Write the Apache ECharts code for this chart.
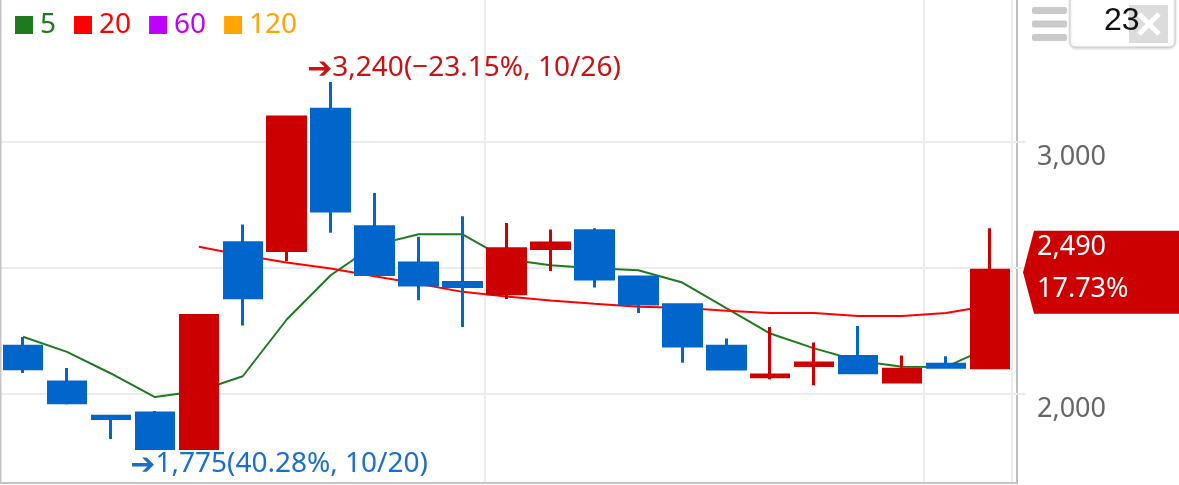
<!DOCTYPE html>
<html>
<head>
<meta charset="utf-8">
<script src="https://cdn.jsdelivr.net/npm/echarts@6.0.0/dist/echarts.min.js"></script>
<style>
html,body{margin:0;padding:0;background:#fff;}
#chart{width:1179px;height:485px;}
</style>
</head>
<body>
<div id="chart"></div>
<script>
// ---- data ----
const dates = ['10/15','10/16','10/19','10/20','10/21','10/22','10/23','10/26','10/27','10/28','10/29','10/30',
               '11/02','11/03','11/04','11/05','11/06','11/09','11/10','11/11','11/12','11/13','11/16'];
const openVals  = [2187,2045,1909,1922,1780,2600,2569,3131,2663,2519,2441,2396,2577,2647,2463,2353,2187,2066,2111,2147,2045,2116,2102];
const closeVals = [2098,1963,1900,1780,2310,2381,3100,2726,2473,2431,2425,2576,2599,2455,2356,2188,2097,2073,2121,2082,2096,2104,2490];
const lowVals   = [2081,1956,1818,1775,1780,2270,2526,2639,2470,2371,2264,2376,2487,2421,2320,2122,2092,2056,2032,2077,2045,2100,2098];
const highVals  = [2224,2101,1912,1930,2310,2672,3100,3240,2798,2623,2705,2678,2652,2657,2463,2353,2218,2264,2202,2268,2151,2148,2657];
const ma5  = [2225,2165,2079,1985,2009,2068,2294,2470,2590,2633,2633,2534,2510,2498,2490,2441,2339,2238,2179,2130,2106,2105,2185];
const ma20 = [null,null,null,null,2584,2550,2521,2497,2466,2436,2404,2386,2370,2357,2345,2341,2329,2320,2320,2308,2308,2320,2350];
const legendNames  = ['5','20','60','120'];
const legendColors = ['#1f7a1f','#ff0000','#bf00ff','#ffa500'];
const gridValues   = [2000,2500,3000];
const yLabelValues = [2000,3000];
const yLabelTexts  = ['2,000','3,000'];
const highIdx = 7, highVal = 3240, highText = '3,240(−23.15%, 10/26)';
const lowIdx = 3, lowVal = 1775, lowText = '1,775(40.28%, 10/20)';
const lastIdx = 22, lastVal = 2490, lastText = '2,490\n17.73%';
const countText = '23';

// ---- chart ----
const FONT = "'Noto Sans', 'DejaVu Sans', sans-serif";
const chart = echarts.init(document.getElementById('chart'), null, {renderer:'canvas'});
const kData = dates.map((d,i)=>[openVals[i], closeVals[i], lowVals[i], highVals[i]]);

function annLabel(text, color, pos){
  return {
    show:true, formatter:'{a|➔}{t|' + text + '}', position:pos, align:'left', verticalAlign:'top',
    rich:{
      a:{color:color, fontSize:30, fontWeight:'bold', fontFamily:"'DejaVu Sans'", lineHeight:30, padding:[3,0,0,0]},
      t:{color:color, fontSize:28, fontFamily:FONT, lineHeight:30}
    }
  };
}

const option = {
  animation: false,
  textStyle: {fontFamily: FONT},
  grid: {left: 1, top: 0, width: 1011, height: 483, containLabel: false},
  legend: {
    left: 15, top: 10, padding: 0, icon: 'rect', itemWidth: 18, itemHeight: 18, itemGap: 18,
    selectedMode: false,
    textStyle: {fontSize: 28, fontFamily: FONT, lineHeight: 30, padding: [0,0,0,2]},
    data: legendNames.map((n,i)=>({name:n, textStyle:{color:legendColors[i]}}))
  },
  xAxis: {
    type: 'category', data: dates, boundaryGap: true,
    axisLine: {show:false}, axisTick: {show:false}, axisLabel: {show:false},
    splitLine: {show:true, interval: (i)=> i===11 || i===21, lineStyle:{color:'#ececec', width:2}}
  },
  yAxis: {
    type: 'value', position: 'right', offset: 5, min: 1643, max: 3566, scale: true,
    axisLine: {show:true, lineStyle:{color:'#bdbdbd', width:2}},
    axisTick: {show:false},
    splitLine: {show:false},
    axisLabel: {
      show: true, margin: 20, fontSize: 27, color: '#666', fontFamily: FONT,
      verticalAlign: 'top', lineHeight: 27, padding: [2,0,0,0],
      hideOverlap: false, showMinLabel: true, showMaxLabel: true,
      customValues: yLabelValues,
      formatter: (v)=>{ const k = yLabelValues.indexOf(Math.round(v)); return k>=0 ? yLabelTexts[k] : ''; }
    }
  },
  graphic: [
    {type:'line', shape:{x1:0, y1:483, x2:1017, y2:483}, style:{stroke:'#c4c4c4', lineWidth:2}, z:10},
    {type:'line', shape:{x1:0.75, y1:0, x2:0.75, y2:484}, style:{stroke:'#c4c4c4', lineWidth:1.5}, z:10},
    // menu icon
    {type:'rect', shape:{x:1032, y:7, width:35, height:7, r:2}, style:{fill:'#cbcbcb'}, z:20},
    {type:'rect', shape:{x:1032, y:20.5, width:35, height:7, r:2}, style:{fill:'#cbcbcb'}, z:20},
    {type:'rect', shape:{x:1032, y:34, width:35, height:7, r:2}, style:{fill:'#cbcbcb'}, z:20},
    // count box
    {type:'rect', shape:{x:1070, y:-6, width:105, height:53, r:5},
     style:{fill:'#fff', stroke:'#d0d0d0', lineWidth:1, shadowBlur:3, shadowColor:'rgba(0,0,0,0.2)', shadowOffsetY:1}, z:20},
    {type:'rect', shape:{x:1129, y:5, width:39, height:38}, style:{fill:'#dcdcdc'}, z:21},
    {type:'line', shape:{x1:1139, y1:14, x2:1159, y2:34}, style:{stroke:'#fff', lineWidth:5}, z:22},
    {type:'line', shape:{x1:1159, y1:14, x2:1139, y2:34}, style:{stroke:'#fff', lineWidth:5}, z:22},
    {type:'text', x:1104, y:21, style:{text:countText, fontSize:32, fill:'#111', font:"32px 'Noto Sans'", verticalAlign:'middle', align:'left'}, z:23}
  ],
  series: [
    {
      type: 'candlestick', name: 'K', data: kData, barWidth: 38, clip: false, z: 3,
      itemStyle: {color:'#cc0000', color0:'#0066cc', borderColor:'#cc0000', borderColor0:'#0066cc', borderWidth:3},
      markLine: {
        silent: true, symbol: 'none', z: 1, animation: false,
        label: {show:false},
        lineStyle: {color:'#ececec', width:2, type:'solid'},
        data: gridValues.map(v=>[{x:0, yAxis:v}, {x:1026, yAxis:v}])
      },
      markPoint: {
        silent: true, animation: false,
        data: [
          {coord:[highIdx, highVal], symbol:'rect', symbolSize:1, itemStyle:{color:'rgba(0,0,0,0)'},
           label: annLabel(highText, '#cc1111', [-23,-28])},
          {coord:[lowIdx, lowVal], symbol:'rect', symbolSize:1, itemStyle:{color:'rgba(0,0,0,0)'},
           label: annLabel(lowText, '#1a6fcc', [-24,0])},
          {coord:[lastIdx, lastVal], symbol:'path://M0,41.5 L11,0 L160,0 L160,83 L11,83 Z',
           symbolSize:[160,83], symbolKeepAspect:false, symbolOffset:[113,2], itemStyle:{color:'#cc0000'},
           label:{show:true, formatter:lastText, position:[14,-4], align:'left', verticalAlign:'top',
                  color:'#fff', fontSize:27, lineHeight:42, fontFamily:FONT}}
        ]
      }
    },
    {type:'line', name:'5', data: ma5, symbol:'none', z:2, color: legendColors[0],
     lineStyle:{color:legendColors[0], width:2}},
    {type:'line', name:'20', data: ma20, symbol:'none', z:2, color: legendColors[1],
     lineStyle:{color:legendColors[1], width:2}},
    {type:'line', name:'60', data: [], symbol:'none', z:2, color: legendColors[2],
     lineStyle:{color:legendColors[2], width:2}},
    {type:'line', name:'120', data: [], symbol:'none', z:2, color: legendColors[3],
     lineStyle:{color:legendColors[3], width:2}}
  ]
};
chart.setOption(option);
</script>
</body>
</html>
